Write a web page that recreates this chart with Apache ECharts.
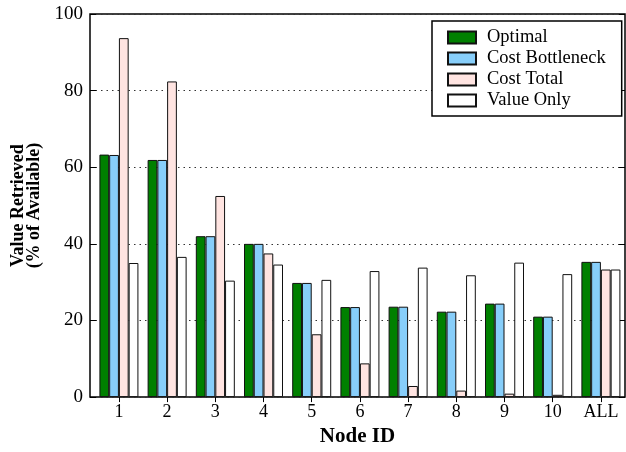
<!DOCTYPE html>
<html>
<head>
<meta charset="utf-8">
<style>
  html, body { margin: 0; padding: 0; background: #fff; }
  #chart { width: 626px; height: 452px; }
</style>
<script src="https://cdn.jsdelivr.net/npm/echarts@6/dist/echarts.min.js"></script>
</head>
<body>
<div id="chart"></div>
<script>
// Node labels along the x axis
const categories = ['1', '2', '3', '4', '5', '6', '7', '8', '9', '10', 'ALL'];
// Value retrieved (% of available) per strategy
const optimal        = [63.3, 61.9, 42.0, 40.0, 29.8, 23.5, 23.6, 22.3, 24.4, 21.0, 35.3];
const costBottleneck = [63.2, 61.9, 42.0, 40.0, 29.8, 23.5, 23.6, 22.3, 24.4, 21.0, 35.3];
const costTotal      = [93.7, 82.4, 52.5, 37.5, 16.4, 8.8, 2.9, 1.7, 0.9, 0.6, 33.3];
const valueOnly      = [35.0, 36.6, 30.4, 34.6, 30.6, 32.9, 33.8, 31.8, 35.1, 32.1, 33.3];
const yTicks = [0, 20, 40, 60, 80, 100];

const FONT = 'Liberation Serif';
const positions = categories.map((c, i) => i + 1);

function pairs(values) {
  return values.map((v, i) => [positions[i], v]);
}

function barSeries(name, values, fill) {
  return {
    name: name,
    type: 'bar',
    data: pairs(values),
    barWidth: 9.75,
    barGap: '0%',
    itemStyle: { color: fill, borderColor: '#111', borderWidth: 1 },
    emphasis: { disabled: true }
  };
}

const chart = echarts.init(document.getElementById('chart'), null, { renderer: 'canvas' });

chart.setOption({
  animation: false,
  backgroundColor: '#fff',
  textStyle: { fontFamily: FONT },
  grid: {
    left: 90, right: 1, top: 14, bottom: 50,
    show: true, borderColor: '#000', borderWidth: 1.5, backgroundColor: 'transparent'
  },
  legend: {
    orient: 'vertical',
    left: 432, top: 21,
    padding: [7, 16, 6, 15],
    icon: 'rect',
    itemWidth: 28, itemHeight: 12, itemGap: 2,
    borderColor: '#000', borderWidth: 1.5,
    backgroundColor: '#fff',
    selectedMode: false,
    textStyle: { fontFamily: FONT, fontSize: 18.5, color: '#000', padding: [0, 0, 0, 6] },
    data: ['Optimal', 'Cost Bottleneck', 'Cost Total', 'Value Only']
  },
  xAxis: [
    {
      type: 'value',
      min: 0.4, max: 11.5,
      position: 'bottom',
      name: 'Node ID',
      nameLocation: 'middle',
      nameGap: 25,
      nameTextStyle: { fontFamily: FONT, fontSize: 21, fontWeight: 'bold', color: '#000' },
      axisLine: { show: false },
      axisTick: { show: false },
      splitLine: { show: false },
      axisLabel: {
        customValues: positions,
        formatter: v => categories[Math.round(v) - 1] || '',
        fontFamily: FONT, fontSize: 18, color: '#000', margin: 6
      }
    },
    {
      type: 'value',
      min: 0.4, max: 11.5,
      position: 'top',
      axisLine: { show: false },
      axisTick: { show: true, inside: true, length: 5, customValues: positions, lineStyle: { color: '#000', width: 1 } },
      axisLabel: { show: false },
      splitLine: { show: false }
    }
  ],
  yAxis: [
    {
      type: 'value',
      min: 0, max: 100, interval: 20,
      position: 'left',
      name: 'Value Retrieved\n(% of Available)',
      nameLocation: 'middle',
      nameGap: 47,
      nameTextStyle: { fontFamily: FONT, fontSize: 18, fontWeight: 'bold', color: '#000', lineHeight: 16, align: 'center' },
      axisLine: { show: false },
      axisTick: { show: true, inside: true, length: 6, lineStyle: { color: '#000', width: 1 } },
      axisLabel: { fontFamily: FONT, fontSize: 19, color: '#000', margin: 7 },
      splitLine: { show: true, lineStyle: { color: '#333', width: 1, type: [1.5, 4] } }
    },
    {
      type: 'value',
      min: 0, max: 100, interval: 20,
      position: 'right',
      axisLine: { show: false },
      axisTick: { show: true, inside: true, length: 6, lineStyle: { color: '#000', width: 1 } },
      axisLabel: { show: false },
      splitLine: { show: false }
    }
  ],
  series: [
    barSeries('Optimal', optimal, '#008000'),
    barSeries('Cost Bottleneck', costBottleneck, '#87cefa'),
    barSeries('Cost Total', costTotal, '#ffe4e1'),
    barSeries('Value Only', valueOnly, '#ffffff')
  ]
});
</script>
</body>
</html>
